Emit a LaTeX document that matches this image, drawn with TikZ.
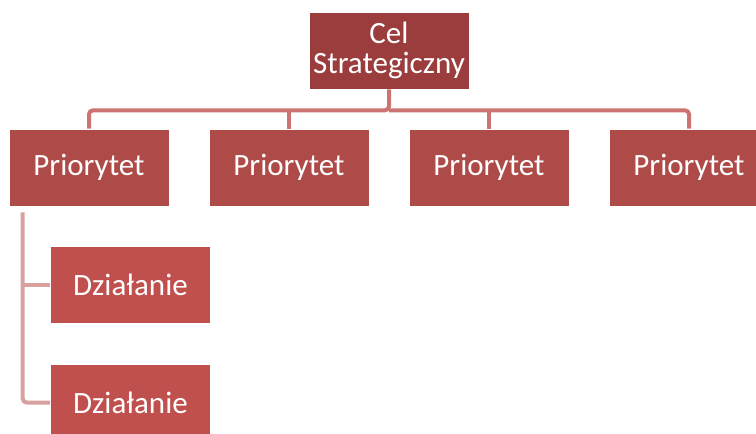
\documentclass[tikz,border=0pt]{standalone}
\usepackage{fontspec}
\setmainfont{Carlito}
\usetikzlibrary{calc}
\definecolor{topc}{HTML}{9B3D3D}
\definecolor{prioc}{HTML}{AE4A47}
\definecolor{dzc}{HTML}{C0504D}
\definecolor{linec}{HTML}{CD7472}
\definecolor{brc}{HTML}{D9A0A0}
\tikzset{
  box/.style={draw=white, line width=0.6pt, minimum width=160pt, minimum height=77pt,
    inner sep=0pt, text=white, font=\fontsize{31}{33}\selectfont, align=center},
  conn/.style={line width=4pt, rounded corners=4pt},
}
\begin{document}
\begin{tikzpicture}[x=1pt,y=-1pt]
\useasboundingbox (0,0) rectangle (756,434);
\node[box, fill=topc] (top) at (389,50.5) {Cel\\[-3pt]Strategiczny};
\node[box, fill=prioc] (p1) at (89,167.5) {Priorytet};
\node[box, fill=prioc] (p2) at (289,167.5) {Priorytet};
\node[box, fill=prioc] (p3) at (489,167.5) {Priorytet};
\node[box, fill=prioc] (p4) at (689,167.5) {Priorytet};
\node[box, fill=dzc] (d1) at (130.5,285) {Działanie};
\node[box, fill=dzc] (d2) at (130.5,402.5) {Działanie};
\coordinate (hb) at ($(top.south)+(0,21)$);
\coordinate (bt) at ($(p1.south west)+(14,6)$);
\draw[linec, conn] (top.south) -- (hb) -| (p1.north);
\draw[linec, conn] (hb) -| (p4.north);
\draw[linec, line width=4pt] (hb -| p2.north) -- (p2.north);
\draw[linec, line width=4pt] (hb -| p3.north) -- (p3.north);
\draw[brc, conn] (bt) |- (d2.west);
\draw[brc, line width=4pt] (bt |- d1.west) -- (d1.west);
\end{tikzpicture}
\end{document}
